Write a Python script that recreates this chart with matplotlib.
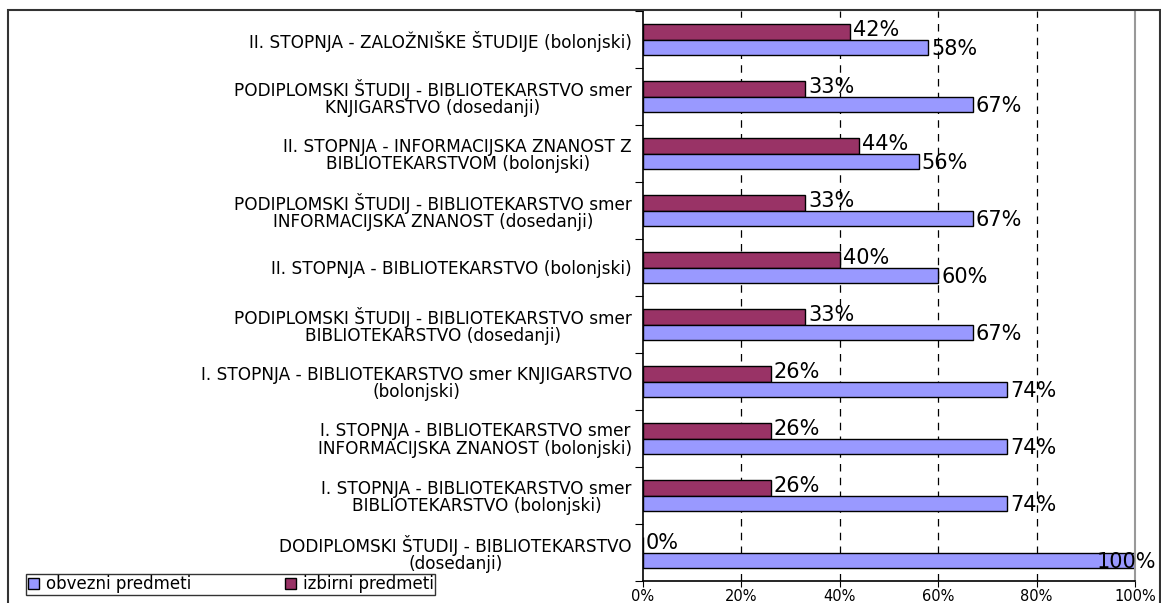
import matplotlib
matplotlib.use("Agg")
import matplotlib.pyplot as plt
from matplotlib.patches import Rectangle
import numpy as np

categories = [
    "II. STOPNJA - ZALOŽNIŠKE ŠTUDIJE (bolonjski)",
    "PODIPLOMSKI ŠTUDIJ - BIBLIOTEKARSTVO smer\nKNJIGARSTVO (dosedanji)",
    "II. STOPNJA - INFORMACIJSKA ZNANOST Z\nBIBLIOTEKARSTVOM (bolonjski)",
    "PODIPLOMSKI ŠTUDIJ - BIBLIOTEKARSTVO smer\nINFORMACIJSKA ZNANOST (dosedanji)",
    "II. STOPNJA - BIBLIOTEKARSTVO (bolonjski)",
    "PODIPLOMSKI ŠTUDIJ - BIBLIOTEKARSTVO smer\nBIBLIOTEKARSTVO (dosedanji)",
    "I. STOPNJA - BIBLIOTEKARSTVO smer KNJIGARSTVO\n(bolonjski)",
    "I. STOPNJA - BIBLIOTEKARSTVO smer\nINFORMACIJSKA ZNANOST (bolonjski)",
    "I. STOPNJA - BIBLIOTEKARSTVO smer\nBIBLIOTEKARSTVO (bolonjski)",
    "DODIPLOMSKI ŠTUDIJ - BIBLIOTEKARSTVO\n(dosedanji)",
]
obvezni = [58, 67, 56, 67, 60, 67, 74, 74, 74, 100]
izbirni = [42, 33, 44, 33, 40, 33, 26, 26, 26, 0]

plt.rcParams['font.family'] = ['DejaVu Sans']

fig = plt.figure(figsize=(11.61, 6.03), dpi=100)
ax = fig.add_axes([643 / 1161, 1 - 581 / 603, (1135 - 643) / 1161, 570 / 603])

n = len(categories)
y = np.arange(n)[::-1]  # first category on top
h = 0.28

ax.barh(y + h / 2, izbirni, height=h, color='#993366', edgecolor='black', linewidth=1, label='izbirni predmeti')
ax.barh(y - h / 2, obvezni, height=h, color='#9999FF', edgecolor='black', linewidth=1, label='obvezni predmeti')

for yi, v in zip(y, izbirni):
    ax.text(v + 0.6, yi + h / 2 + 0.03, f"{v}%", va='center', ha='left', fontsize=15)
for yi, v in zip(y, obvezni):
    xpos = v + 0.6 if v < 95 else 104.4
    ha = 'left' if v < 95 else 'right'
    ax.text(xpos, yi - h / 2 - 0.03, f"{v}%", va='center', ha=ha, fontsize=15, clip_on=False)

ax.set_xlim(0, 100)
ax.set_ylim(-0.5, n - 0.5)
ax.set_xticks(range(0, 101, 20))
ax.set_xticklabels([f"{t}%" for t in range(0, 101, 20)], fontsize=10.5)
ax.tick_params(axis='x', direction='out', length=4, pad=2)

ax.set_yticks(np.arange(-0.5, n - 0.4, 1))
ax.set_yticklabels([])
ax.set_yticks(y, minor=True)
ax.set_yticklabels(categories, minor=True, fontsize=12.2, ha='right',
                   multialignment='center', linespacing=0.95)
ax.tick_params(axis='y', which='minor', length=0, pad=8)
ax.tick_params(axis='y', which='major', direction='out', length=6)

for gx in [20, 40, 60, 80]:
    ax.axvline(gx, color='black', linestyle=(0, (6, 5)), linewidth=0.9, zorder=0)

ax.spines['top'].set_visible(False)
ax.spines['right'].set_color('#999999')
ax.spines['right'].set_linewidth(1.5)
ax.spines['left'].set_linewidth(1.2)
ax.spines['bottom'].set_linewidth(1.2)

handles, labels = ax.get_legend_handles_labels()
leg = fig.legend(handles[::-1], labels[::-1], ncol=2, loc='lower left',
                 bbox_to_anchor=(26 / 1161, 1 - 595 / 603), fontsize=12,
                 frameon=True, fancybox=False, edgecolor='black', handlelength=0.7,
                 handleheight=0.7, handletextpad=0.4, columnspacing=5.6,
                 borderpad=0.1, borderaxespad=0)
leg.get_frame().set_linewidth(1)

fig.patches.append(Rectangle((8 / 1161, -0.01), (1160 - 8) / 1161, 1 - 10 / 603 + 0.01,
                             transform=fig.transFigure, fill=False,
                             edgecolor='#333333', linewidth=1.5))

fig.savefig("out.png", dpi=100)
